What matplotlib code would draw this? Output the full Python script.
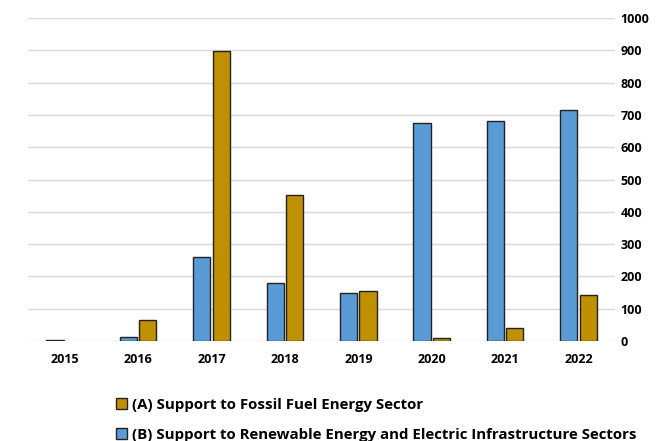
import matplotlib
matplotlib.use("Agg")
import matplotlib.pyplot as plt
import numpy as np
from matplotlib.patches import Patch

# ── Data ──────────────────────────────────────────────────────────────────────
years = ["2015", "2016", "2017", "2018", "2019", "2020", "2021", "2022"]
renewable = [2, 12, 261, 180, 149, 674, 683, 717]   # (B)
fossil = [0, 65, 897, 453, 155, 9, 40, 143]         # (A)
label_a = "(A) Support to Fossil Fuel Energy Sector"
label_b = "(B) Support to Renewable Energy and Electric Infrastructure Sectors"

BLUE = "#5B9BD5"
GOLD = "#BF9000"

plt.rcParams["font.family"] = ["Open Sans", "DejaVu Sans"]

fig = plt.figure(figsize=(6.59, 4.41), dpi=100)
ax = fig.add_axes([0.0425, 0.2268, 0.891, 0.732])

x = np.arange(len(years))
w = 0.235
gap = 0.03
# zero-height bars would still draw an edge line, so hide them
blue_h = [v if v > 0 else np.nan for v in renewable]
gold_h = [v if v > 0 else np.nan for v in fossil]
ax.bar(x - (w + gap) / 2, blue_h, w, color=BLUE, edgecolor="#222222", linewidth=1.0, zorder=3)
ax.bar(x + (w + gap) / 2, gold_h, w, color=GOLD, edgecolor="#222222", linewidth=1.0, zorder=3)

ax.set_xlim(-0.5, len(years) - 0.5)
ax.set_ylim(0, 1000)
ax.set_yticks(np.arange(0, 1001, 100))
ax.yaxis.tick_right()
ax.grid(axis="y", color="#D9D9D9", linewidth=1.0, zorder=0)
for s in ax.spines.values():
    s.set_visible(False)
ax.tick_params(axis="both", length=0, labelsize=9)
ax.tick_params(axis="y", pad=4)
ax.tick_params(axis="x", pad=9)
ax.set_xticks(x)
ax.set_xticklabels(years)
for lbl in ax.get_xticklabels() + ax.get_yticklabels():
    lbl.set_fontweight("bold")

handles = [
    Patch(facecolor=GOLD, edgecolor="#222222", linewidth=1.0, label=label_a),
    Patch(facecolor=BLUE, edgecolor="#222222", linewidth=1.0, label=label_b),
]
fig.legend(handles=handles, loc="upper left", bbox_to_anchor=(0.176, 0.097),
           frameon=False, handlelength=0.75, handleheight=0.75, handletextpad=0.3,
           labelspacing=1.05, borderaxespad=0, borderpad=0,
           prop={"weight": "bold", "size": 10.8})

fig.savefig("out.png", dpi=100)
